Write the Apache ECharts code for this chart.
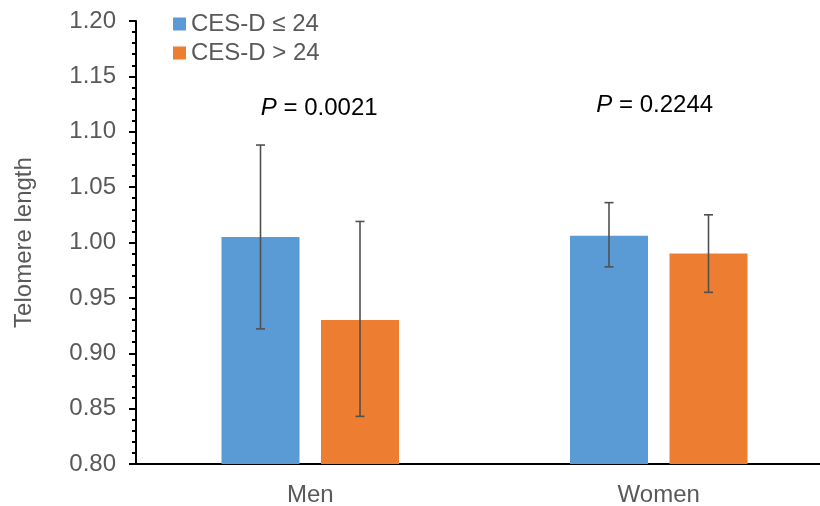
<!DOCTYPE html>
<html>
<head>
<meta charset="utf-8">
<script src="https://cdn.jsdelivr.net/npm/echarts@6/dist/echarts.min.js"></script>
<style>html,body{margin:0;padding:0;background:#fff;}#c{width:820px;height:506px;}</style>
</head>
<body>
<div id="c"></div>
<script>
// ---- data ----
var categories = ['Men', 'Women'];
var seriesNames = ['CES-D \u2264 24', 'CES-D > 24'];
var lowMeans = [1.005, 1.006];
var highMeans = [0.930, 0.990];
var lowErrLow = [0.922, 0.978];
var lowErrHigh = [1.088, 1.036];
var highErrLow = [0.843, 0.955];
var highErrHigh = [1.019, 1.025];
var pLabels = ['0.0021', '0.2244'];
var pLabelY = [1.121, 1.124];

// ---- style ----
var BLUE = '#5B9BD5', ORANGE = '#ED7D31', TEXT = '#595959';
var FONT = 'Liberation Sans, Arial, sans-serif';
var FS = 24;
var BAR_W = 78, GAP_PX = 21.5;
var P_LABEL_DX = [9, -4];

var chart = echarts.init(document.getElementById('c'));

function errItem(side) {
  return function (params, api) {
    var i = api.value(0);
    var lo = api.coord([i, api.value(1)]);
    var hi = api.coord([i, api.value(2)]);
    var x = lo[0] + side * (BAR_W + GAP_PX) / 2;
    var cap = 4.5;
    var st = { stroke: '#505050', lineWidth: 1.6 };
    return {
      type: 'group',
      children: [
        { type: 'line', shape: { x1: x, y1: lo[1], x2: x, y2: hi[1] }, style: st },
        { type: 'line', shape: { x1: x - cap, y1: lo[1], x2: x + cap, y2: lo[1] }, style: st },
        { type: 'line', shape: { x1: x - cap, y1: hi[1], x2: x + cap, y2: hi[1] }, style: st }
      ]
    };
  };
}

var option = {
  animation: false,
  grid: { left: 136, top: 21, width: 697, height: 443, outerBoundsMode: 'none', containLabel: false },
  legend: {
    orient: 'vertical', left: 173, top: 12, itemGap: 5, padding: 0,
    itemWidth: 13, itemHeight: 13, icon: 'rect',
    data: seriesNames,
    textStyle: { color: TEXT, fontSize: FS, fontFamily: FONT }
  },
  xAxis: {
    type: 'category', data: categories,
    axisLine: { lineStyle: { color: '#000', width: 2 } },
    axisTick: { show: false },
    axisLabel: { color: TEXT, fontSize: FS, fontFamily: FONT, margin: 19 }
  },
  yAxis: {
    type: 'value', min: 0.8, max: 1.2, interval: 0.05,
    name: 'Telomere length', nameLocation: 'middle', nameGap: 100,
    nameTextStyle: { color: TEXT, fontSize: FS, fontFamily: FONT },
    axisLine: { show: true, lineStyle: { color: '#000', width: 2 } },
    axisTick: { show: true, length: 7, lineStyle: { color: '#000', width: 2 } },
    minorTick: { show: true, splitNumber: 5, length: 4, lineStyle: { color: '#000', width: 2 } },
    splitLine: { show: false },
    axisLabel: { color: TEXT, fontSize: FS, fontFamily: FONT, margin: 20,
      formatter: function (v) { return v.toFixed(2); } }
  },
  series: [
    { name: seriesNames[0], type: 'bar', data: lowMeans, barWidth: BAR_W,
      barGap: (GAP_PX / BAR_W * 100) + '%', itemStyle: { color: BLUE } },
    { name: seriesNames[1], type: 'bar', data: highMeans, barWidth: BAR_W,
      barGap: (GAP_PX / BAR_W * 100) + '%', itemStyle: { color: ORANGE } },
    { type: 'custom', z: 5, silent: true,
      data: categories.map(function (c, i) { return [i, lowErrLow[i], lowErrHigh[i]]; }),
      renderItem: errItem(-1) },
    { type: 'custom', z: 5, silent: true,
      data: categories.map(function (c, i) { return [i, highErrLow[i], highErrHigh[i]]; }),
      renderItem: errItem(1) },
    { type: 'custom', z: 6, silent: true,
      data: categories.map(function (c, i) { return [i, pLabelY[i]]; }),
      renderItem: function (params, api) {
        var p = api.coord([api.value(0), api.value(1)]);
        return {
          type: 'text',
          style: {
            x: p[0] + P_LABEL_DX[params.dataIndex], y: p[1],
            text: '{i|P} = ' + pLabels[params.dataIndex],
            align: 'center', verticalAlign: 'middle',
            fill: '#000', fontSize: FS, fontFamily: FONT,
            rich: { i: { fontStyle: 'italic', fontSize: FS, fontFamily: FONT, fill: '#000' } }
          }
        };
      } }
  ]
};
chart.setOption(option);
</script>
</body>
</html>
